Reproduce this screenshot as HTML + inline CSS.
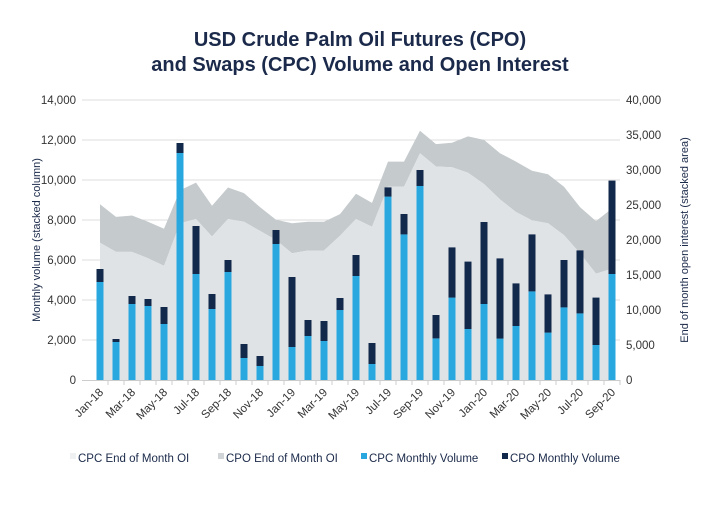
<!DOCTYPE html>
<html><head><meta charset="utf-8"><style>
body{margin:0;background:#fff;font-family:"Liberation Sans",sans-serif}
svg text{font-family:"Liberation Sans",sans-serif}
</style></head><body>
<svg id="c" width="720" height="500" viewBox="0 0 720 500">
<text x="360" y="46" text-anchor="middle" font-size="20" font-weight="bold" fill="#1b2a4a">USD Crude Palm Oil Futures (CPO)</text>
<text x="360" y="71" text-anchor="middle" font-size="20" font-weight="bold" fill="#1b2a4a">and Swaps (CPC) Volume and Open Interest</text>
<g id="grid"></g><g id="areas"></g><g id="bars"></g><g id="axes"></g>
<text transform="translate(40,240) rotate(-90)" text-anchor="middle" font-size="11" fill="#1b2a4a">Monthly volume (stacked column)</text>
<text transform="translate(688,240) rotate(-90)" text-anchor="middle" font-size="11" fill="#1b2a4a">End of month open interest (stacked area)</text>
<g id="legend" font-size="11.5" fill="#1b2a4a">
<rect x="70" y="453" width="6" height="6" fill="#eef0f2"/>
<text x="78" y="462">CPC End of Month OI</text>
<rect x="218" y="453" width="6" height="6" fill="#d0d4d7"/>
<text x="226" y="462">CPO End of Month OI</text>
<rect x="361" y="453" width="6" height="6" fill="#29a8e0"/>
<text x="369" y="462">CPC Monthly Volume</text>
<rect x="502" y="453" width="6" height="6" fill="#13294b"/>
<text x="510" y="462">CPO Monthly Volume</text>
</g>
</svg>
<script>
const months=["Jan-18","Feb-18","Mar-18","Apr-18","May-18","Jun-18","Jul-18","Aug-18","Sep-18","Oct-18","Nov-18","Dec-18","Jan-19","Feb-19","Mar-19","Apr-19","May-19","Jun-19","Jul-19","Aug-19","Sep-19","Oct-19","Nov-19","Dec-19","Jan-20","Feb-20","Mar-20","Apr-20","May-20","Jun-20","Jul-20","Aug-20","Sep-20"];
const cpcVol=[4900,1900,3800,3700,2800,11350,5300,3550,5400,1100,700,6800,1650,2200,1950,3500,5200,800,9170,7280,9700,2080,4120,2550,3800,2070,2700,4430,2370,3630,3330,1750,5300];
const cpoVol=[650,150,400,350,850,500,2400,750,600,700,500,700,3500,800,1000,600,1050,1050,460,1020,800,1170,2510,3370,4100,4010,2130,2850,1910,2370,3150,2370,4670];
const cpcOI=[19600,18300,18300,17400,16300,22400,23000,20500,23000,22600,21300,20000,18100,18500,18500,20600,23000,21900,27600,27600,32400,30500,30400,29600,28000,25800,24000,22800,22400,20700,18100,15200,15900];
const cpoOI=[5500,5000,5200,5200,5300,4700,5200,4400,4500,4100,3400,2900,4300,4100,4100,3100,3600,3400,3600,3600,3200,3200,3500,5200,6300,6600,7200,7100,7000,6900,6600,7500,8600];
const leftTicks=[0,2000,4000,6000,8000,10000,12000,14000];
const rightTicks=[0,5000,10000,15000,20000,25000,30000,35000,40000];
const X0=100,DX=16,Y0=380,H=280;
const x=i=>X0+i*DX, yL=v=>Y0-v/14000*H, yR=v=>Y0-v/40000*H;
const NS="http://www.w3.org/2000/svg";
function mk(p,tag,a){const e=document.createElementNS(NS,tag);for(const k in a)e.setAttribute(k,a[k]);document.getElementById(p).appendChild(e);return e;}
leftTicks.forEach(v=>{
 if(v>0){const g=mk('grid','line',{x1:82,x2:620,y1:yL(v),y2:yL(v),stroke:'#dcdcdc','stroke-width':1});
 
 }
 const t=mk('axes','text',{x:76,y:yL(v)+4,'text-anchor':'end','font-size':11.5,fill:'#333'});t.textContent=v.toLocaleString('en-US');
 
 
});
rightTicks.forEach(v=>{
 const t=mk('axes','text',{x:626,y:yR(v)+4,'text-anchor':'start','font-size':11.5,fill:'#333'});t.textContent=v.toLocaleString('en-US');
 
 
});
let topPath='',lowPath='';
cpcOI.forEach((v,i)=>{lowPath+=(i?'L':'M')+x(i)+','+yR(v);topPath+=(i?'L':'M')+x(i)+','+yR(v+cpoOI[i]);});
const lowRev=cpcOI.map((v,i)=>[x(i),yR(v)]).reverse().map(p=>'L'+p[0]+','+p[1]).join('');
const a1=mk('areas','path',{d:topPath+lowRev+'Z',fill:'#c5cacd'});


const a2=mk('areas','path',{d:lowPath+'L'+x(cpcOI.length-1)+','+Y0+'L'+x(0)+','+Y0+'Z',fill:'#dfe3e6'});


const ax=mk('axes','line',{x1:82,x2:620,y1:Y0+0.5,y2:Y0+0.5,stroke:'#ccc'});


months.forEach((m,i)=>{
 const b1=mk('bars','rect',{x:x(i)-3.5,y:yL(cpcVol[i]),width:7,height:Y0-yL(cpcVol[i]),fill:'#29a8e0'});
 
 
 const b2=mk('bars','rect',{x:x(i)-3.5,y:yL(cpcVol[i]+cpoVol[i]),width:7,height:Y0-yL(cpoVol[i]),fill:'#13294b'});
 
 
 const tk=mk('axes','line',{x1:x(i)+8,x2:x(i)+8,y1:Y0,y2:Y0+5,stroke:'#ccc'});
 
 
 if(i%2===0){const t=mk('axes','text',{'text-anchor':'end','font-size':11.5,fill:'#333',transform:`translate(${x(i)+4},${Y0+13}) rotate(-45)`});t.textContent=m;
 
 }
});
</script>
</body></html>
